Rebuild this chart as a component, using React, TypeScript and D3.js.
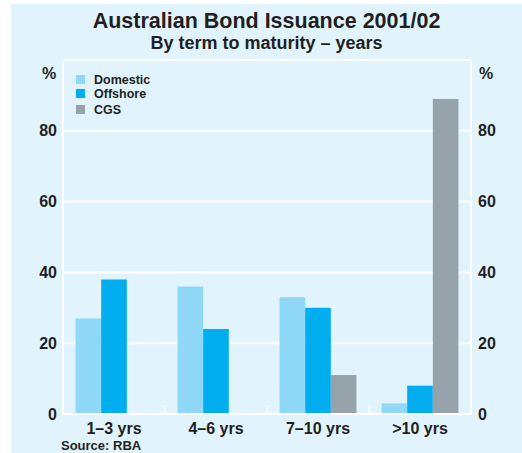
import React from "react";
import * as d3 from "d3";

const categories = ["1–3 yrs", "4–6 yrs", "7–10 yrs", ">10 yrs"];
const seriesNames = ["Domestic", "Offshore", "CGS"];
const domestic = [27, 36, 33, 3];
const offshore = [38, 24, 30, 8];
const cgs = [0, 0, 11, 89];
const yTicks = [0, 20, 40, 60, 80];

const colors = ["#8fd8f7", "#00aeef", "#96a3aa"];
const W = 522;
const H = 453;
const plot = { left: 63, right: 471, top: 60, bottom: 414 };
const font = "Arial, 'Liberation Sans', Helvetica, sans-serif";
const textColor = "#1f1f22";

export default function App() {
  const series = [domestic, offshore, cgs];
  const x = d3.scaleBand<string>().domain(categories).range([plot.left, plot.right]).paddingInner(0).paddingOuter(0);
  const inner = d3
    .scaleBand<string>()
    .domain(seriesNames)
    .range([0, x.bandwidth()])
    .paddingInner(0)
    .paddingOuter(0.49);
  const y = d3.scaleLinear().domain([0, 100]).range([plot.bottom, plot.top]);

  return (
    <svg
      width={W}
      height={H}
      style={{ position: "absolute", left: 0, top: 0, fontFamily: font }}
    >
      <rect x={11} y={4} width={W - 11} height={H - 4} fill="#e1f3fc" />
      <text x={266.5} y={28} textAnchor="middle" fontSize={21.5} fontWeight="bold" fill={textColor}>
        Australian Bond Issuance 2001/02
      </text>
      <text x={266.5} y={49} textAnchor="middle" fontSize={18} fontWeight="bold" fill={textColor}>
        By term to maturity – years
      </text>

      {/* gridlines */}
      {yTicks.map((t) => (
        <line key={t} x1={plot.left} x2={plot.right} y1={y(t)} y2={y(t)} stroke="#ffffff" strokeWidth={2} />
      ))}
      {/* plot border */}
      <rect
        x={plot.left}
        y={plot.top}
        width={plot.right - plot.left}
        height={plot.bottom - plot.top}
        fill="none"
        stroke="#ffffff"
        strokeWidth={2}
      />

      {/* bars */}
      {categories.map((c, i) =>
        seriesNames.map((s, j) => {
          const v = series[j][i];
          if (!v) return null;
          return (
            <rect
              key={c + s}
              x={(x(c) as number) + (inner(s) as number)}
              y={y(v)}
              width={inner.bandwidth()}
              height={y(0) - y(v)}
              fill={colors[j]}
            />
          );
        })
      )}

      {/* axis line & category ticks */}
      <line x1={plot.left} x2={plot.right} y1={y(0)} y2={y(0)} stroke="#ffffff" strokeWidth={2} />
      {categories.slice(1).map((c) => (
        <line key={c} x1={x(c)} x2={x(c)} y1={y(0) - 9} y2={y(0)} stroke="#ffffff" strokeWidth={2} />
      ))}

      {/* y tick labels */}
      {yTicks.map((t) => (
        <g key={t} fontSize={16} fontWeight="bold" fill={textColor}>
          <text x={57} y={y(t) + 5.5} textAnchor="end">{t}</text>
          <text x={478} y={y(t) + 5.5} textAnchor="start">{t}</text>
        </g>
      ))}
      <text x={42} y={79} fontSize={16} fontWeight="bold" fill={textColor}>%</text>
      <text x={479} y={79} fontSize={16} fontWeight="bold" fill={textColor}>%</text>

      {/* category labels */}
      {categories.map((c) => (
        <text
          key={c}
          x={(x(c) as number) + x.bandwidth() / 2}
          y={434}
          textAnchor="middle"
          fontSize={16}
          fontWeight="bold"
          fill={textColor}
        >
          {c}
        </text>
      ))}

      {/* legend */}
      {seriesNames.map((s, j) => {
        const ys = [75, 89, 105][j];
        return (
          <g key={s}>
            <rect x={76} y={ys} width={9} height={9} fill={colors[j]} />
            <text x={94} y={ys + 9} fontSize={12.5} fontWeight="bold" fill={textColor}>
              {s}
            </text>
          </g>
        );
      })}

      <text x={61} y={450} fontSize={13} fontWeight="bold" fill={textColor}>
        Source: RBA
      </text>
    </svg>
  );
}
